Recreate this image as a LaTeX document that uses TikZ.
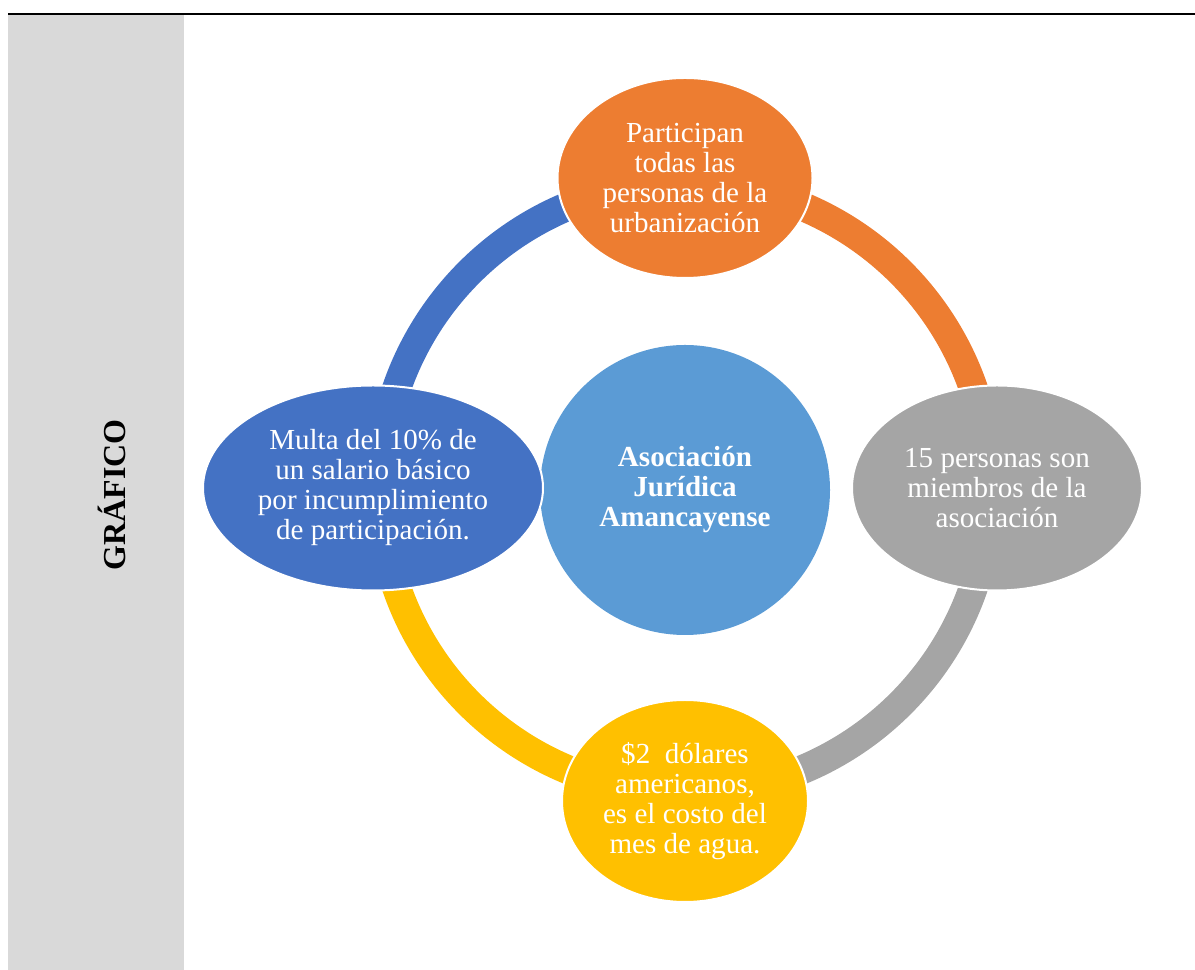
\documentclass[tikz,border=0pt]{standalone}
\usepackage{fontspec}
\setmainfont{Liberation Serif}
\usetikzlibrary{shapes.geometric}
\definecolor{cOrange}{HTML}{ED7D31}
\definecolor{cGray}{HTML}{A5A5A5}
\definecolor{cYellow}{HTML}{FFC000}
\definecolor{cBlue}{HTML}{4472C4}
\definecolor{cLight}{HTML}{5B9BD5}
\definecolor{cColumn}{HTML}{D9D9D9}
\tikzset{
  bubble/.style={ellipse, draw=white, line width=1.5pt, text=white, align=center, inner sep=0pt,
    font=\fontsize{21.8}{22.5}\selectfont},
  ringarc/.style={line width=21.75pt},
}
\begin{document}
\begin{tikzpicture}[x=0.75pt, y=0.75pt]
\useasboundingbox (0,0) rectangle (1195,970);
% left column and top rule
\fill[cColumn] (8,0) rectangle (184,955);
\draw[line width=1.6pt] (8,956) -- (1195,956);
\node[rotate=90, font=\fontsize{24}{28}\selectfont\bfseries] (title) at (112,475) {GRÁFICO};
% ring
\coordinate (ring) at (685,482);
\draw[ringarc, cOrange] ([shift={(90:228.75pt)}]ring) arc[start angle=90, end angle=0, radius=228.75pt];
\draw[ringarc, cGray] ([shift={(0:228.75pt)}]ring) arc[start angle=0, end angle=-90, radius=228.75pt];
\draw[ringarc, cYellow] ([shift={(-90:228.75pt)}]ring) arc[start angle=-90, end angle=-180, radius=228.75pt];
\draw[ringarc, cBlue] ([shift={(180:228.75pt)}]ring) arc[start angle=180, end angle=90, radius=228.75pt];
% centre
\node[circle, fill=cLight, minimum size=217.5pt, inner sep=0pt, text=white, align=center,
  font=\fontsize{21.8}{22.5}\selectfont\bfseries] (center) at (685,480)
  {Asociación\\Jurídica\\Amancayense};
% outer bubbles
\node[bubble, fill=cOrange, minimum width=191.25pt, minimum height=150pt] (top) at (685,792)
  {Participan\\todas las\\personas de la\\urbanización};
\node[bubble, fill=cGray, minimum width=217.5pt, minimum height=153.75pt] (right) at (997,482)
  {15 personas son\\miembros de la\\asociación};
\node[bubble, fill=cYellow, minimum width=184.5pt, minimum height=151.5pt] (bottom) at (685,169)
  {\$2\ \ dólares\\americanos,\\es el costo del\\mes de agua.};
\node[bubble, fill=cBlue, minimum width=255pt, minimum height=153.75pt] (left) at (373,482)
  {Multa del 10\% de\\un salario básico\\por incumplimiento\\de participación.};
\end{tikzpicture}
\end{document}
